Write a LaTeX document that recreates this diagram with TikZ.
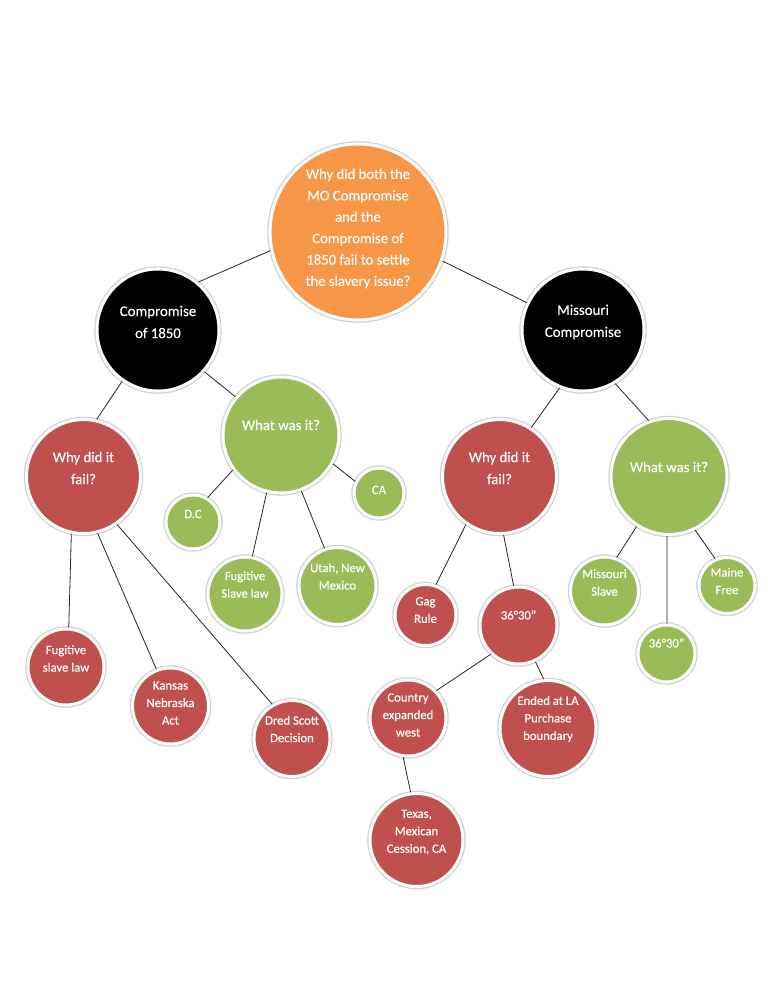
\documentclass[tikz,border=0pt]{standalone}
\usepackage{fontspec}
\setmainfont{Carlito}[FakeBold=0.35]
\usetikzlibrary{shadows}
\definecolor{corange}{HTML}{F79646}
\definecolor{cred}{HTML}{C0504D}
\definecolor{cgreen}{HTML}{9BBB59}
\tikzset{
  circ/.style={circle, draw=white, line width=3pt, inner sep=0pt,
    preaction={draw=black!18, line width=5.5pt},
    drop shadow={shadow xshift=0.8pt, shadow yshift=-1.2pt, opacity=0.3, fill=black!60}},
  txt/.style={text=white, align=center, inner sep=0pt},
  f14/.style={font=\fontsize{14.7}{21.4}\selectfont},
  f13/.style={font=\fontsize{14.8}{22}\selectfont},
  f12/.style={font=\fontsize{12.7}{17.5}\selectfont},
  link/.style={draw=black!85, line width=0.8pt}
}
\newcommand{\bb}[8]{%
  \node[circ, fill=#5, minimum size={2*#4-6}] (#1) at (#2,#3) {};
  \node[txt, #7] (#1t) at (#2,#6) {#8};}
\begin{document}
\begin{tikzpicture}[x=1pt,y=-1pt]
\useasboundingbox (0,0) rectangle (768,994);
\fill[white] (0,0) rectangle (768,994);
% level 0
\bb{root}{358}{232}{91}{corange}{228.5}{f14}{Why did both the\\MO Compromise\\and the\\Compromise of\\1850 fail to settle\\the slavery issue?}
% level 1
\bb{cl}{158}{330}{64}{black}{322}{f13}{Compromise\\of 1850}
\bb{mc}{583}{330}{64}{black}{322}{f13}{Missouri\\Compromise}
% level 2
\bb{whyl}{83.5}{476.5}{60}{cred}{468}{f13}{Why did it\\fail?}
\bb{whatl}{281}{435}{61}{cgreen}{425}{f13}{What was it?}
\bb{whyr}{499.5}{476.5}{60}{cred}{468}{f13}{Why did it\\fail?}
\bb{whatr}{669}{476.5}{61}{cgreen}{467}{f13}{What was it?}
% left green leaves
\bb{dc}{193}{522}{30}{cgreen}{514}{f12}{D.C}
\bb{ca}{379}{493}{28}{cgreen}{490}{f12}{CA}
\bb{fugg}{245}{594}{40}{cgreen}{584.5}{f12}{Fugitive\\Slave law}
\bb{utah}{337.5}{586}{41.5}{cgreen}{576.5}{f12}{Utah, New\\Mexico}
% left red leaves
\bb{fugr}{66}{667}{41}{cred}{658.5}{f12}{Fugitive\\slave law}
\bb{kan}{170.5}{706}{41}{cred}{703}{f12}{Kansas\\Nebraska\\Act}
\bb{dred}{292}{738.5}{41}{cred}{729}{f12}{Dred Scott\\Decision}
% right red
\bb{gag}{425.5}{615}{33.5}{cred}{610}{f12}{Gag\\Rule}
\bb{lat}{518.5}{625.5}{41.5}{cred}{615}{f12}{36°30”}
\bb{ctry}{408}{718}{41}{cred}{715}{f12}{Country\\expanded\\west}
\bb{ended}{548}{728.5}{51}{cred}{719}{f12}{Ended at LA\\Purchase\\boundary}
\bb{tex}{416.5}{840}{49.5}{cred}{832}{f12}{Texas,\\Mexican\\Cession, CA}
% right green
\bb{ms}{604.5}{591}{37}{cgreen}{582.5}{f12}{Missouri\\Slave}
\bb{mf}{727}{585.5}{31}{cgreen}{581}{f12}{Maine\\Free}
\bb{latg}{666.5}{653.5}{31.5}{cgreen}{643}{f12}{36°30”}
% connectors
\draw[link] (root.192) -- (cl.50);
\draw[link] (root.341) -- (mc.154);
\draw[link] (cl.235) -- (whyl.77);
\draw[link] (cl.318.5) -- (whatl.140.5);
\draw[link] (mc.248.4) -- (whyr.57.8);
\draw[link] (mc.301.6) -- (whatr.110);
\draw[link] (whatl.216.7) -- (dc.59.6);
\draw[link] (whatl.331) -- (ca.154.3);
\draw[link] (whatl.256.4) -- (fugg.79.9);
\draw[link] (whatl.290.8) -- (utah.109.8);
\draw[link] (whyl.258.9) -- (fugr.86.4);
\draw[link] (whyl.284) -- (kan.111.4);
\draw[link] (whyl.305.6) -- (dred.120.5);
\draw[link] (whyr.235.7) -- (gag.71.3);
\draw[link] (whyr.274) -- (lat.97.8);
\draw[link] (whatr.237.1) -- (ms.70.4);
\draw[link] (whatr.268) -- (latg.89);
\draw[link] (whatr.296.8) -- (mf.114.7);
\draw[link] (lat.226.8) -- (ctry.44);
\draw[link] (lat.295.7) -- (ended.95.4);
\draw[link] (ctry.263) -- (tex.97);
\end{tikzpicture}
\end{document}
